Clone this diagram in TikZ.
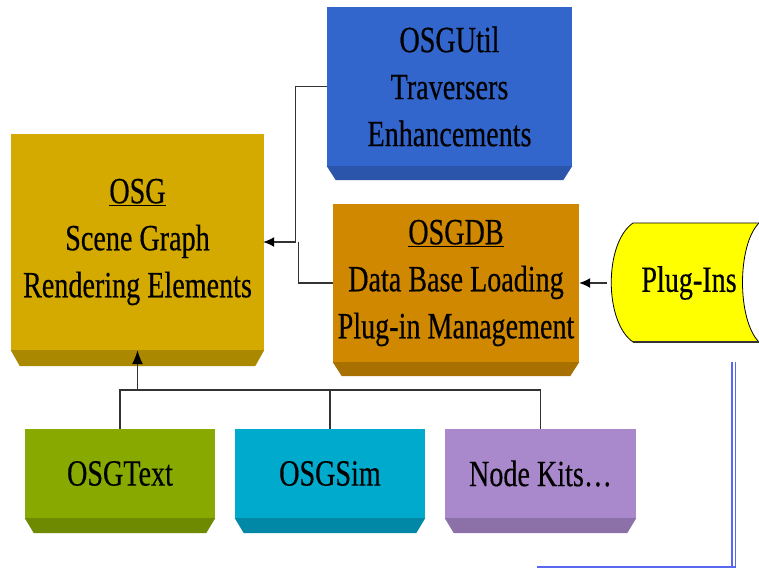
\documentclass[tikz,border=0pt]{standalone}
\usepackage{fontspec}
\setmainfont[FakeStretch=0.76,FakeBold=0.35]{Liberation Serif}
\usetikzlibrary{arrows.meta,calc,positioning}

\definecolor{osgface}{HTML}{D4AA00}
\definecolor{osgside}{HTML}{AA8800}
\definecolor{utilface}{HTML}{3366CC}
\definecolor{utilside}{HTML}{2A55AA}
\definecolor{dbface}{HTML}{D08800}
\definecolor{dbside}{HTML}{A87000}
\definecolor{textface}{HTML}{88AA00}
\definecolor{textside}{HTML}{6E8A00}
\definecolor{simface}{HTML}{00AACC}
\definecolor{simside}{HTML}{0088A6}
\definecolor{kitsface}{HTML}{AA88CC}
\definecolor{kitsside}{HTML}{8C70A8}
\definecolor{plugfill}{HTML}{FFFF00}
\definecolor{slideblue}{HTML}{5868F0}
\definecolor{wire}{HTML}{333333}

\tikzset{
  face/.style={inner sep=0pt, align=center,
    font=\fontsize{37}{47}\selectfont},
  wire/.style={draw=wire, line width=1.3pt},
  slide/.style={draw=slideblue, line width=1.4pt}
}
% bevel under a box face: node, colour, depth
\newcommand{\bevel}[3]{%
  \fill[#2] (#1.south west) -- (#1.south east)
    -- ([xshift=-9pt,yshift=-#3]#1.south east)
    -- ([xshift=9pt,yshift=-#3]#1.south west) -- cycle;}

\begin{document}
\begin{tikzpicture}[x=1pt,y=-1pt]
      \useasboundingbox (0,0) rectangle (759,568);
      \fill[white] (0,0) rectangle (759,568);
      % Box faces
      \node[face, fill=osgface, minimum width=253pt, minimum height=216pt]
        (osg) at (137.5,242) {\underline{OSG}\\Scene Graph\\Rendering Elements};
      \node[face, fill=utilface, minimum width=245pt, minimum height=159pt]
        (util) at (449.5,86.5) {OSGUtil\\Traversers\\Enhancements};
      \node[face, fill=dbface, minimum width=246pt, minimum height=158pt]
        (dbase) at (456,283) {\underline{OSGDB}\\Data Base Loading\\Plug-in Management};
      \node[face, fill=textface, minimum width=190pt, minimum height=89pt]
        (text) at (120,473.5) {OSGText};
      \node[face, fill=simface, minimum width=190pt, minimum height=89pt]
        (sim) at (330,473.5) {OSGSim};
      \node[face, fill=kitsface, minimum width=191pt, minimum height=89pt]
        (kits) at (540.5,473.5) {Node Kits\dots};
      % Bevels
      \bevel{osg}{osgside}{16pt}
      \bevel{util}{utilside}{14pt}
      \bevel{dbase}{dbside}{14pt}
      \bevel{text}{textside}{15pt}
      \bevel{sim}{simside}{15pt}
      \bevel{kits}{kitsside}{15pt}
      % Plug-in store
      \fill[plugfill] (633,223) -- (759,223)
        .. controls (737,245) and (737,320) .. (759,342)
        -- (633,342) .. controls (604,322) and (604,243) .. (633,223);
      \draw[line width=0.8pt] (759,223) -- (633,223)
        .. controls (604,243) and (604,322) .. (633,342);
      \draw[line width=0.8pt] (759,223) .. controls (737,245) and (737,320) .. (759,342);
      \draw[draw=wire, line width=1.6pt] (633,342) -- (759,342);
      \node[face] (plugins) at (689,283) {Plug-Ins};
      \coordinate (plugL) at (607,283);
      % Connectors
      \coordinate (bus) at (0,390);
      \draw[wire, -{Latex[black,length=11pt,width=10pt]}, shorten >=-1pt]
        (util.west) -| ([xshift=31pt]osg.east) -- (osg.east);
      \draw[wire] (dbase.west) -| ([xshift=34pt]osg.east);
      \draw[wire, -{Latex[black,length=11pt,width=10pt]}] (plugL) -- (dbase.east |- plugL);
      \draw[wire] (text.north) |- (kits.north |- bus) -- (kits.north);
      \draw[wire] (sim.north) -- (sim.north |- bus);
      \draw[wire, -{Latex[black,length=14pt,width=11pt]}] (osg.south |- bus) -- (osg.south);
      % Slide frame
      \draw[slide] (732,362) -- (732,567);
      \draw[slide] (735.5,362) -- (735.5,567) -- (537,567);
\end{tikzpicture}
\end{document}
